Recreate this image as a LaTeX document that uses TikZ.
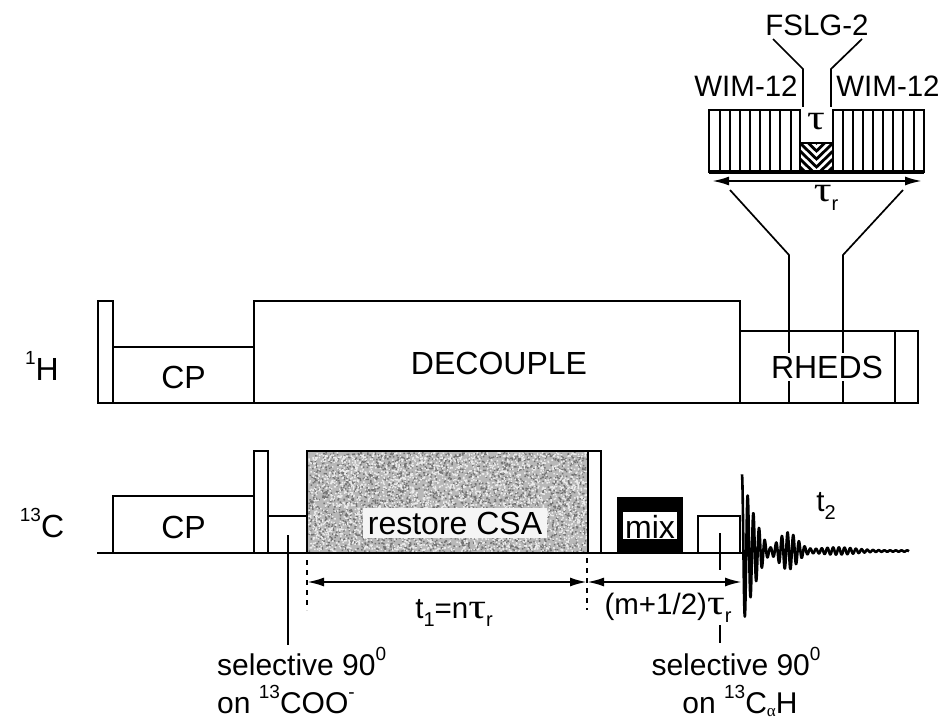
\documentclass[tikz,border=0pt]{standalone}
\usepackage{fontspec}
\usepackage{graphicx}
\setmainfont{Liberation Sans}
\newfontfamily\slabel{Liberation Serif}
\usetikzlibrary{arrows.meta}
\tikzset{
  x=1pt,y=-1pt,
  declare function={gs(\u)=(abs(\u)>4)?0:exp(-(\u)*(\u));ed(\u)=(\u>8)?0:exp(-\u);},
  ln/.style={line width=2.8pt,draw=black},
  pbox/.style={ln,rectangle,anchor=north west,inner sep=0pt,outer sep=0pt},
  txt/.style={font=\fontsize{30}{32}\selectfont,inner sep=0pt,text=black},
  big/.style={font=\fontsize{32}{34}\selectfont,inner sep=0pt,text=black},
  mid/.style={font=\fontsize{29.5}{32}\selectfont,inner sep=0pt,text=black},
  thin line/.style={line width=1.7pt,draw=black},
  dim/.style={line width=2.2pt,draw=black,{Latex[length=17pt,width=9pt]}-{Latex[length=17pt,width=9pt]}},
  dotline/.style={line width=2.8pt,draw=black,dash pattern=on 5pt off 5pt},
}
\newcommand{\tauc}{{\scalebox{1.5}[1.2]{\slabel τ}}}
\newcommand{\sups}[1]{\raisebox{0.5em}{\fontsize{19}{19}\selectfont #1}}
\newcommand{\subs}[1]{\raisebox{-0.28em}{\fontsize{20}{20}\selectfont #1}}
\begin{document}
\begin{tikzpicture}
\useasboundingbox (0,0) rectangle (942,719);
% 1H channel
\node[pbox,minimum width=141pt,minimum height=56pt] (hcp) at (113,347) {};
\node[pbox,minimum width=15pt,minimum height=102pt] (hpulse) at (98,301) {};
\node[pbox,minimum width=486pt,minimum height=102pt] (dec) at (254,301) {};
\node[pbox,minimum width=178pt,minimum height=72pt] (rheds) at (740,331) {};
\node[pbox,minimum width=23pt,minimum height=72pt] (hend) at (895,331) {};
\node[big] (hlab) at (42,366) {\sups{1}H};
\node[big] at (hcp.center) [yshift=-2pt] {CP};
\node[big] (decl) at (499,363) {DECOUPLE};
% funnel
\coordinate (fl0) at (789,403); \coordinate (fl1) at (789,255); \coordinate (fl2) at (730,190);
\coordinate (fr0) at (843,403); \coordinate (fr1) at (843,255); \coordinate (fr2) at (903,190);
\draw[thin line] (fl0)--(fl1)--(fl2);
\draw[thin line] (fr0)--(fr1)--(fr2);
\node[big,fill=white,inner ysep=3pt] (rhl) at (827,367) {RHEDS};
% inset
\node[pbox,minimum width=91pt,minimum height=62pt] (wl) at (709,110) {};
\node[pbox,minimum width=91pt,minimum height=62pt] (wr) at (833,110) {};
\begin{scope}
\clip (800,143) rectangle (833,172);
\foreach \d in {-24,-16,...,40}{
  \draw[line width=2.8pt] (800,143+\d)--(816.5,159+\d)--(833,143+\d);
}
\end{scope}
\node[pbox,minimum width=33pt,minimum height=29pt] (fs) at (800,143) {};
\draw[line width=3.2pt] (709,172)--(924,172);
\foreach \x in {720,730,740,750,760,770,780,791}{
  \draw[line width=2pt] (\x,110)--(\x,172);
}
\foreach \x in {843,853,863,873,883,893,903,914}{
  \draw[line width=2pt] (\x,110)--(\x,172);
}
\node[mid] (fslg) at (817,25) {FSLG-2};
\node[mid] (wiml) at (746,86) {WIM-12};
\node[mid] (wimr) at (888,86) {WIM-12};
\node[mid] (tau) at (816,122) {\tauc};
\coordinate (al) at (712,181); \coordinate (ar) at (922,181);
\draw[dim] (al)--(ar);
\node[mid] (taur) at (826,198) {\tauc\subs{r}};
\draw[thin line] (773,39)--(803,69)--(803,107);
\draw[thin line] (862,39)--(831,69)--(831,107);
% 13C channel
\node[pbox,minimum width=141pt,minimum height=57pt] (ccp) at (113,496) {};
\node[pbox,minimum width=14pt,minimum height=102pt] (cp1) at (254,451) {};
\node[pbox,minimum width=39pt,minimum height=37pt] (sel1) at (268,516) {};
\node[pbox,minimum width=281pt,minimum height=102pt,fill=black!28] (rest) at (307,451) {};
\pgfmathsetseed{7}
\fill[black!55] \foreach \i in {1,...,3000}{ ({308+278*rnd},{452+99*rnd}) rectangle +(1.5,1.5) };
\fill[black!8] \foreach \i in {1,...,3000}{ ({308+278*rnd},{452+99*rnd}) rectangle +(1.5,1.5) };
\draw[ln] (rest.north west) rectangle (rest.south east);
\node[pbox,minimum width=13pt,minimum height=102pt] (cp2) at (588,451) {};
\node[pbox,line width=0pt,draw=none,fill=black,minimum width=66pt,minimum height=56pt] (mix) at (617,497) {};
\node[pbox,draw=none,fill=white,minimum width=54pt,minimum height=27pt] (mixw) at (623,512) {};
\node[big] at (mixw.center) [yshift=-1pt] {mix};
\node[pbox,minimum width=42pt,minimum height=37pt] (sel2) at (698,516) {};
\draw[ln] (97,553)--(742,553);
\node[big] (clab) at (42,523) {\sups{13}C};
\node[big] at (ccp.center) [yshift=-3pt] {CP};
\node[pbox,draw=none,fill=black!4,minimum width=184pt,minimum height=30pt] (halo) at (363,508) {};
\node[big] at (halo.center) {restore CSA};
% FID
\draw[line width=2.6pt,black,line join=round] plot[domain=0:167,samples=700]
  (742+\x,{551-(76*max(0,1-\x/28)*ed(\x/60)+18*gs((\x-46)/13)+3*gs((\x-95)/25)+0.6)*cos(\x*63.2)});
\node[mid] (t2) at (826,506) {t\subs{2}};
% markers
\coordinate (d1a) at (307,560); \coordinate (d1b) at (307,610);
\coordinate (d2a) at (587,558); \coordinate (d2b) at (587,610);
\draw[dotline] (d1a)--(d1b);
\draw[dotline] (d2a)--(d2b);
\coordinate (dimA) at (307,582); \coordinate (dimB) at (587,582); \coordinate (dimC) at (742,582);
\draw[dim] (dimA)--(dimB);
\draw[dim] (dimB)--(dimC);
\node[mid] (t1) at (454,613) {t\subs{1}=n\tauc\subs{r}};
\node[mid] (mm) at (668,608) {(m+1/2)\tauc\subs{r}};
% selective labels
\coordinate (s1a) at (288,535); \coordinate (s1b) at (288,645);
\draw[line width=1.4pt] (s1a)--(s1b);
\coordinate (s2a) at (720,533); \coordinate (s2b) at (720,570);
\coordinate (s2c) at (720,625); \coordinate (s2d) at (720,643);
\draw[line width=1.4pt] (s2a)--(s2b);
\draw[line width=1.4pt] (s2c)--(s2d);
\node[txt,anchor=base west] (sa) at (217,675) {selective 90\sups{0}};
\node[txt,anchor=base west] (sb) at (217,713) {on \sups{13}COO\sups{-}};
\node[txt,anchor=base] (sc) at (736,675) {selective 90\sups{0}};
\node[txt,anchor=base] (sd) at (740,713) {on \sups{13}C\raisebox{-0.1em}{\fontsize{17}{17}\selectfont\slabel α}H};
\end{tikzpicture}
\end{document}
